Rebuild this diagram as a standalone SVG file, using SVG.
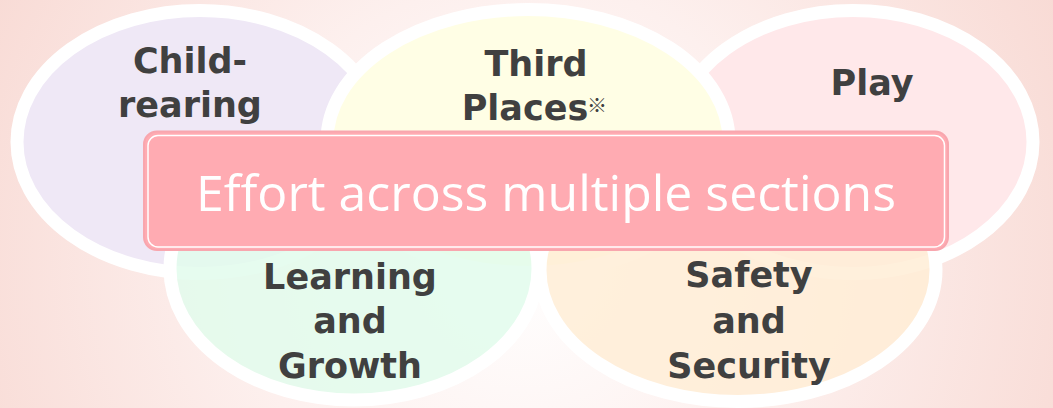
<svg xmlns="http://www.w3.org/2000/svg" width="1053" height="408" viewBox="0 0 1053 408">
  <defs>
    <radialGradient id="bg" cx="520" cy="260" r="620" gradientUnits="userSpaceOnUse">
      <stop offset="0" stop-color="#FFFFFF"/>
      <stop offset="0.45" stop-color="#FDF0EE"/>
      <stop offset="1" stop-color="#F8D9D3"/>
    </radialGradient>
    <style>
      .ell { stroke: #FFFFFF; stroke-width: 13; }
      .lower { fill-opacity: 0.85; }
      .lbl { font-family: "DejaVu Sans", Verdana, sans-serif; font-weight: bold; font-size: 35px; fill: #404040; text-anchor: middle; }
      .main { font-family: "Open Sans", "Noto Sans", sans-serif; font-size: 50px; fill: #FFFFFF; text-anchor: middle; }
    </style>
  </defs>
  <rect width="1053" height="408" fill="url(#bg)"/>

  <g id="child-rearing">
    <ellipse class="ell" cx="200" cy="142" rx="183" ry="131.5" fill="#EFE8F6"/>
  </g>
  <g id="play">
    <ellipse class="ell" cx="853" cy="142" rx="180" ry="131.5" fill="#FFE8EA"/>
  </g>
  <g id="third-places">
    <ellipse class="ell" cx="528" cy="141" rx="201" ry="131.5" fill="#FFFEE5"/>
  </g>
  <g id="learning">
    <ellipse class="ell lower" cx="354" cy="268.5" rx="184" ry="131.5" fill="#E2FBEC"/>
  </g>
  <g id="safety">
    <ellipse class="ell lower" cx="738" cy="270" rx="198" ry="131.5" fill="#FFEDD6"/>
  </g>

  <g id="labels">
    <text class="lbl" x="190" y="73">Child-</text>
    <text class="lbl" x="190" y="117">rearing</text>
    <text class="lbl" x="536" y="76">Third</text>
    <text class="lbl" x="525" y="120">Places</text>
    <text x="597" y="113" font-family="'Noto Sans CJK JP', sans-serif" font-size="20" fill="#404040" text-anchor="middle">※</text>
    <text class="lbl" x="872" y="95">Play</text>
    <text class="lbl" x="350" y="289">Learning</text>
    <text class="lbl" x="350" y="333">and</text>
    <text class="lbl" x="350" y="378">Growth</text>
    <text class="lbl" x="749" y="287">Safety</text>
    <text class="lbl" x="749" y="333">and</text>
    <text class="lbl" x="749" y="378">Security</text>
  </g>

  <g id="effort-box">
    <rect x="144" y="131.5" width="804" height="118.5" rx="13" fill="#FFABB2" stroke="#F8A6AE" stroke-width="2"/>
    <rect x="148" y="135.5" width="796.5" height="111.5" rx="10" fill="none" stroke="#FFFFFF" stroke-width="1.5"/>
    <text class="main" x="546" y="211" textLength="700" lengthAdjust="spacingAndGlyphs">Effort across multiple sections</text>
  </g>

  <g id="connectors"/>
</svg>
